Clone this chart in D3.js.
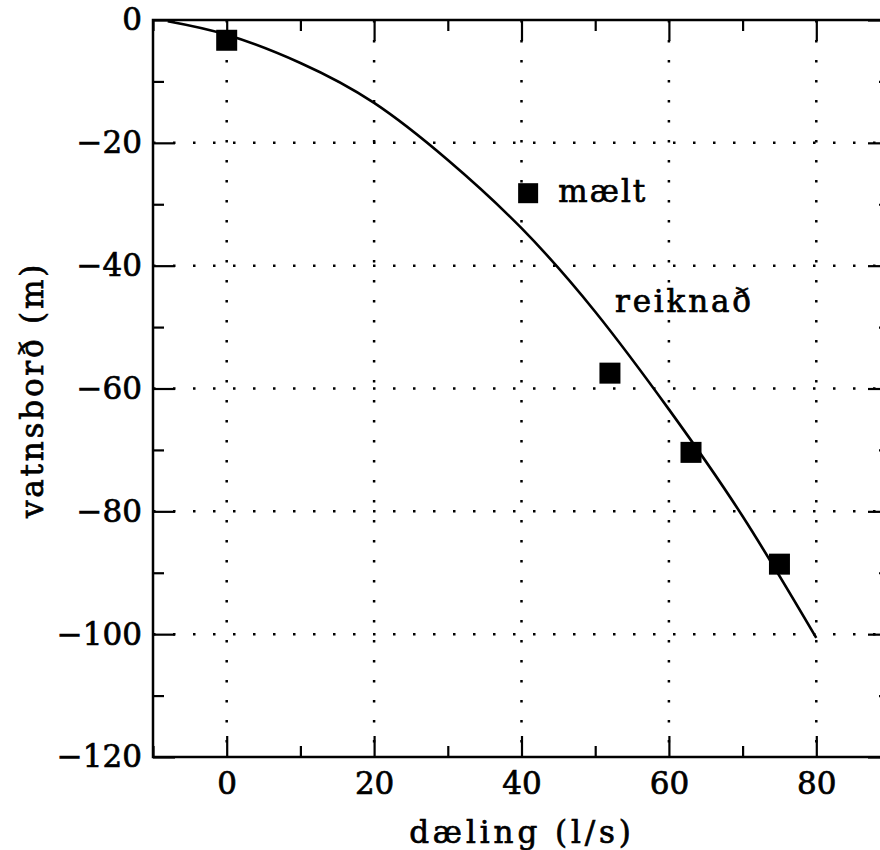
<!DOCTYPE html>
<html>
<head>
<meta charset="utf-8">
<script src="https://cdn.jsdelivr.net/npm/d3@7"></script>
<style>
  body { margin: 0; background: #fff; }
  text { font-family: "DejaVu Serif", serif; fill: #000; stroke: #000; stroke-width: 0.7px; }
</style>
</head>
<body>
<svg id="chart"></svg>
<script>
// measured points (maelt)
var measX = [0, 52, 63, 75];
var measY = [-3.3, -57.5, -70.4, -88.6];

// calculated curve (reiknad)
var calcX = [-8, 0, 10, 20, 30, 40, 50, 60, 70, 80];
var calcY = [-0.2, -2.4, -7.0, -13.5, -22.8, -33.9, -47.5, -63.4, -80.8, -100.6];

var xTicks = [0, 20, 40, 60, 80];
var xMinor = [-10, 10, 30, 50, 70, 90];
var yTicks = [0, -20, -40, -60, -80, -100, -120];
var yMinor = [-10, -30, -50, -70, -90, -110];

var svgWidth = 880;
var svgHeight = 850;
var margin = { left: 153, top: 20 };
var plotW = 737;
var plotH = 737;

var svg = d3.select('#chart')
    .attr('width', svgWidth)
    .attr('height', svgHeight);

var g = svg.append('g')
    .attr('transform', `translate(${margin.left},${margin.top})`);

var xScale = d3.scaleLinear()
    .domain([-10, 90])
    .range([0, plotW]);

var yScale = d3.scaleLinear()
    .domain([-120, 0])
    .range([plotH, 0]);

// dotted grid
g.selectAll('.vgrid')
    .data(xTicks)
    .enter()
    .append('line')
    .attr('x1', d => xScale(d))
    .attr('x2', d => xScale(d))
    .attr('y1', 0)
    .attr('y2', plotH)
    .attr('stroke', '#000')
    .attr('stroke-width', 2.5)
    .attr('stroke-dasharray', '2.5 17.5');

g.selectAll('.hgrid')
    .data(yTicks.slice(1, -1))
    .enter()
    .append('line')
    .attr('y1', d => yScale(d))
    .attr('y2', d => yScale(d))
    .attr('x1', 0)
    .attr('x2', plotW)
    .attr('stroke', '#000')
    .attr('stroke-width', 2.5)
    .attr('stroke-dasharray', '2.5 17.5');

function styleAxis(sel) {
    sel.select('.domain').remove();
    sel.selectAll('.tick line').attr('stroke-width', 2.2);
    sel.selectAll('text').style('font-size', '31px').style('font-family', '"DejaVu Serif", serif');
}

// bottom
g.append('g')
    .attr('transform', `translate(0,${plotH})`)
    .call(d3.axisBottom(xScale).tickValues(xTicks).tickSize(-21).tickPadding(15))
    .call(styleAxis);
g.append('g')
    .attr('transform', `translate(0,${plotH})`)
    .call(d3.axisBottom(xScale).tickValues(xMinor).tickSize(-11).tickFormat(''))
    .call(styleAxis);

// top
g.append('g')
    .call(d3.axisTop(xScale).tickValues(xTicks).tickSize(-21).tickFormat(''))
    .call(styleAxis);
g.append('g')
    .call(d3.axisTop(xScale).tickValues(xMinor).tickSize(-11).tickFormat(''))
    .call(styleAxis);

// left
g.append('g')
    .call(d3.axisLeft(yScale).tickValues(yTicks).tickSize(-22).tickPadding(11))
    .call(styleAxis);
g.append('g')
    .call(d3.axisLeft(yScale).tickValues(yMinor).tickSize(-11).tickFormat(''))
    .call(styleAxis);

// right
g.append('g')
    .attr('transform', `translate(${plotW},0)`)
    .call(d3.axisRight(yScale).tickValues(yTicks).tickSize(-22).tickFormat(''))
    .call(styleAxis);
g.append('g')
    .attr('transform', `translate(${plotW},0)`)
    .call(d3.axisRight(yScale).tickValues(yMinor).tickSize(-11).tickFormat(''))
    .call(styleAxis);

// frame
g.append('rect')
    .attr('x', 0)
    .attr('y', 0)
    .attr('width', plotW)
    .attr('height', plotH)
    .attr('fill', 'none')
    .attr('stroke', '#000')
    .attr('stroke-width', 2.5);

// curve
var line = d3.line()
    .x(d => xScale(d[0]))
    .y(d => yScale(d[1]))
    .curve(d3.curveNatural);

g.append('path')
    .datum(calcX.map((x, i) => [x, calcY[i]]))
    .attr('d', line)
    .attr('fill', 'none')
    .attr('stroke', '#000')
    .attr('stroke-width', 2.6);

// squares
var sq = 21;
g.selectAll('.pt')
    .data(measX.map((x, i) => [x, measY[i]]))
    .enter()
    .append('rect')
    .attr('x', d => xScale(d[0]) - sq / 2)
    .attr('y', d => yScale(d[1]) - sq / 2)
    .attr('width', sq)
    .attr('height', sq)
    .attr('fill', '#000');

// legend
g.append('rect')
    .attr('x', xScale(40.9) - 10)
    .attr('y', yScale(-28.2) - 10)
    .attr('width', 20)
    .attr('height', 20)
    .attr('fill', '#000');

g.append('text')
    .attr('x', xScale(45))
    .attr('y', yScale(-29.6))
    .style('font-size', '31px')
    .style('letter-spacing', '2px')
    .text('mælt');

g.append('text')
    .attr('x', xScale(52.7))
    .attr('y', yScale(-47.5))
    .style('font-size', '31px')
    .style('letter-spacing', '2.8px')
    .text('reiknað');

// axis titles
svg.append('text')
    .attr('x', 522)
    .attr('y', 843)
    .attr('text-anchor', 'middle')
    .style('font-size', '31px')
    .style('letter-spacing', '3.9px')
    .text('dæling (l/s)');

svg.append('text')
    .attr('transform', 'translate(43,390) rotate(-90)')
    .attr('text-anchor', 'middle')
    .style('font-size', '31px')
    .style('letter-spacing', '2.8px')
    .text('vatnsborð (m)');
</script>
</body>
</html>
